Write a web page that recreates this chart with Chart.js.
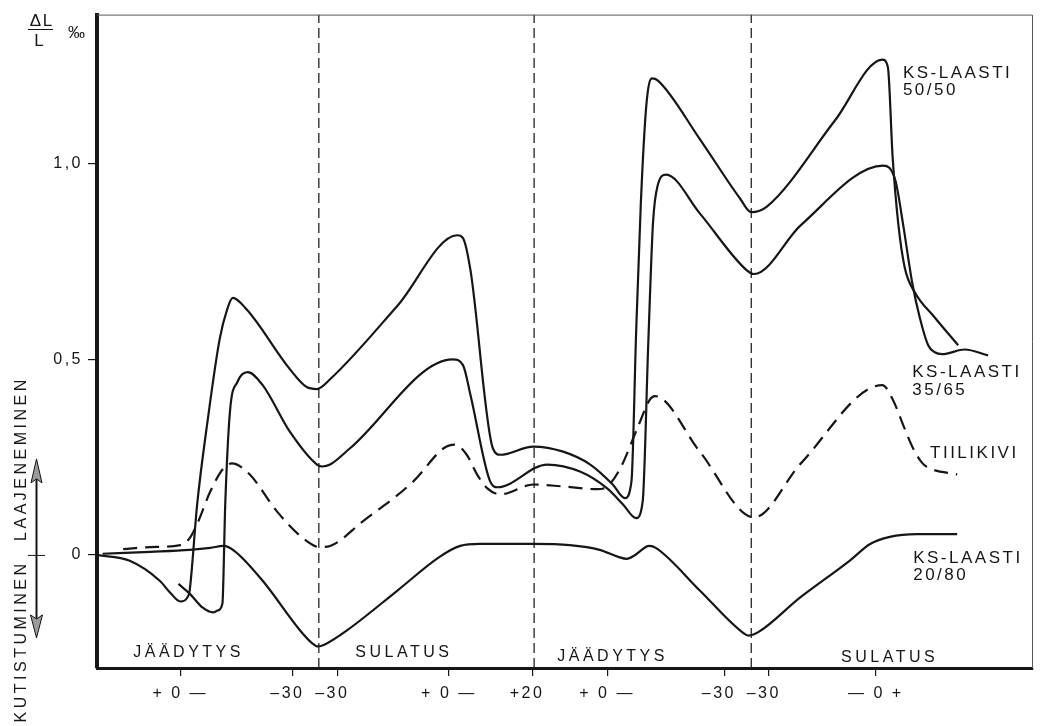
<!DOCTYPE html>
<html><head><meta charset="utf-8">
<script src="https://cdn.jsdelivr.net/npm/chart.js@4.4.1/dist/chart.umd.min.js"></script>
<style>html,body{margin:0;padding:0;background:#fff;}canvas{display:block;}</style>
</head><body>
<canvas id="c" width="1045" height="726"></canvas>
<script>
// x = relative position along the test sequence (0..100), y = ΔL/L in ‰
const ks5050T = [0, 3.5, 6.7, 7.8, 8.9, 9.7, 9.9, 10.7, 11.8, 13.1, 13.9, 14.5, 16.0, 20.6, 22.4, 23.5, 24.9, 32.1, 38.5, 39.1, 39.9, 42.3, 43.1, 46.6, 49.8, 52.7, 55.1, 56.4, 57.1, 57.6, 58.1, 58.7, 59.3, 59.9, 64.4, 68.7, 69.9, 71.6, 78.8, 83.9, 84.5, 85.0, 85.6, 86.3, 87.4, 89.5, 92.0];
const ks5050V = [0, -0.015, -0.066, -0.096, -0.119, -0.107, -0.091, 0.129, 0.340, 0.551, 0.627, 0.657, 0.627, 0.475, 0.429, 0.424, 0.449, 0.637, 0.817, 0.810, 0.728, 0.272, 0.256, 0.277, 0.264, 0.231, 0.180, 0.145, 0.188, 0.569, 0.898, 1.152, 1.218, 1.213, 1.063, 0.911, 0.876, 0.891, 1.109, 1.266, 1.246, 1.018, 0.848, 0.734, 0.670, 0.607, 0.536];

const ks3565T = [8.7, 9.9, 11.3, 12.4, 12.9, 13.4, 13.7, 14.2, 15.0, 16.1, 17.7, 20.6, 23.5, 24.1, 24.9, 27.0, 38.0, 39.1, 39.9, 42.0, 42.8, 48.1, 51.6, 54.5, 56.2, 57.6, 58.3, 58.9, 59.4, 59.9, 60.8, 64.4, 69.4, 70.2, 75.2, 84.0, 85.3, 86.1, 87.1, 87.9, 88.8, 89.5, 90.3, 92.7, 95.2];
const ks3565V = [-0.074, -0.099, -0.135, -0.147, -0.142, -0.124, 0.129, 0.365, 0.442, 0.467, 0.434, 0.315, 0.231, 0.226, 0.231, 0.272, 0.500, 0.485, 0.409, 0.188, 0.173, 0.231, 0.213, 0.170, 0.129, 0.094, 0.137, 0.543, 0.848, 0.944, 0.972, 0.873, 0.728, 0.718, 0.843, 0.995, 0.957, 0.848, 0.695, 0.607, 0.536, 0.518, 0.513, 0.525, 0.510];

const tiiliT = [2.8, 5.7, 8.9, 9.9, 10.7, 12.1, 13.5, 14.4, 16.3, 19.2, 22.0, 23.8, 24.9, 28.4, 33.8, 37.0, 38.2, 39.5, 40.6, 41.7, 43.1, 46.6, 49.8, 53.4, 54.5, 55.9, 57.7, 59.1, 59.6, 64.4, 70.2, 75.2, 83.9, 85.0, 86.3, 87.2, 88.2, 89.0, 91.9];
const tiiliV = [0.015, 0.020, 0.025, 0.043, 0.079, 0.162, 0.221, 0.234, 0.206, 0.112, 0.043, 0.020, 0.023, 0.086, 0.188, 0.272, 0.282, 0.256, 0.206, 0.170, 0.155, 0.180, 0.175, 0.168, 0.175, 0.221, 0.322, 0.398, 0.406, 0.264, 0.096, 0.234, 0.434, 0.398, 0.322, 0.272, 0.234, 0.221, 0.206];

const ks2080T = [0.6, 5.7, 9.9, 12.1, 13.5, 14.7, 17.7, 21.7, 23.0, 23.6, 24.4, 26.7, 32.1, 36.6, 38.8, 40.9, 46.6, 50.5, 53.7, 55.7, 56.6, 57.5, 59.0, 59.7, 64.4, 68.7, 69.6, 70.6, 75.1, 80.4, 82.6, 84.7, 87.6, 91.9];
const ks2080V = [0.003, 0.008, 0.013, 0.018, 0.023, 0.010, -0.066, -0.193, -0.226, -0.234, -0.228, -0.193, -0.091, -0.005, 0.023, 0.028, 0.028, 0.025, 0.013, -0.005, -0.010, 0, 0.023, 0.018, -0.091, -0.193, -0.206, -0.198, -0.109, -0.015, 0.028, 0.046, 0.053, 0.053];

// phase boundaries (dashed verticals)
const phaseBounds = [23.7, 46.7, 69.9];
const phaseNames = ['JÄÄDYTYS', 'SULATUS', 'JÄÄDYTYS', 'SULATUS'];
const phaseLabelX = [9.6, 32.6, 54.9, 84.5];

// temperature ticks on the x axis
const xTickPos = [8.9, 20.9, 25.7, 37.6, 46.5, 54.5, 67.0, 71.8, 83.2];
const xTickLabels = ['+ 0 —', '–30\u2002', '–30\u2002', '+ 0 —', '+20\u2002', '+ 0 —', '–30\u2002', '–30\u2002', '— 0 +'];
const yTickPos = [0, 0.5, 1.0];
const yTickLabels = ['0', '0,5', '1,0'];

const seriesNames = ['KS-LAASTI 50/50', 'KS-LAASTI 35/65', 'TIILIKIVI', 'KS-LAASTI 20/80'];

const Y_MIN = -0.289, Y_MAX = 1.381;
const INK = '#161616';
const FONT = '"Liberation Sans", Arial, sans-serif';
const mk = (ts, vs) => ts.map((t, i) => ({x: t, y: vs[i]}));

const curve = (label, data, dash) => ({
  label, data, borderColor: INK, borderWidth: 2.2, borderDash: dash || [],
  pointRadius: 0, fill: false, cubicInterpolationMode: 'monotone', order: 1
});

const datasets = [
  curve(seriesNames[0], mk(ks5050T, ks5050V)),
  curve(seriesNames[1], mk(ks3565T, ks3565V)),
  curve(seriesNames[2], mk(tiiliT, tiiliV), [14, 8]),
  curve(seriesNames[3], mk(ks2080T, ks2080V)),
  ...phaseBounds.map(b => ({
    label: 'raja', data: [{x: b, y: Y_MIN}, {x: b, y: Y_MAX}],
    borderColor: '#222', borderWidth: 1.3, borderDash: [10, 5], pointRadius: 0,
    tension: 0, fill: false, order: 2
  }))
];

function spaced(ctx, s, px, py, align, spacing) {
  ctx.letterSpacing = spacing + 'px';
  let w = ctx.measureText(s).width;
  let x0 = px;
  if (align === 'center') x0 = px - (w - spacing) / 2;
  else if (align === 'right') x0 = px - (w - spacing);
  ctx.textAlign = 'left';
  ctx.fillText(s, x0, py);
}

const decor = {
  id: 'decor',
  beforeDraw(chart) {
    const c = chart.ctx;
    c.save(); c.fillStyle = '#fff'; c.fillRect(0, 0, chart.width, chart.height); c.restore();
    // wide letter spacing of the original lettering, also used by the axis tick labels
    c.letterSpacing = '2.5px';
  },
  afterDraw(chart) {
    const c = chart.ctx, a = chart.chartArea, xs = chart.scales.x, ys = chart.scales.y;
    c.save();
    // thin top and right frame
    c.strokeStyle = '#555'; c.lineWidth = 1;
    c.beginPath(); c.moveTo(a.left, a.top + 0.5); c.lineTo(a.right - 0.5, a.top + 0.5); c.lineTo(a.right - 0.5, a.bottom); c.stroke();

    c.fillStyle = INK; c.textBaseline = 'middle';
    // phase labels
    c.font = '16px ' + FONT;
    const phaseY = [-0.249, -0.249, -0.259, -0.262];
    phaseNames.forEach((n, i) => spaced(c, n, xs.getPixelForValue(phaseLabelX[i]), ys.getPixelForValue(phaseY[i]), 'center', 3.5));

    // series labels
    c.font = '17px ' + FONT;
    const lab = [
      ['KS-LAASTI', 86.1, 1.231], ['50/50', 86.1, 1.188],
      ['KS-LAASTI', 87.1, 0.467], ['35/65', 87.1, 0.421],
      ['TIILIKIVI', 89.0, 0.259],
      ['KS-LAASTI', 87.2, -0.008], ['20/80', 87.2, -0.051]
    ];
    lab.forEach(l => spaced(c, l[0], xs.getPixelForValue(l[1]), ys.getPixelForValue(l[2]), 'left', 2.5));

    // y axis title  ΔL / L  ‰
    const L = a.left;
    c.font = '17px ' + FONT;
    spaced(c, 'ΔL', L - 56, 21, 'center', 1.5);
    c.strokeStyle = INK; c.lineWidth = 1;
    c.beginPath(); c.moveTo(L - 69, 29.5); c.lineTo(L - 44, 29.5); c.stroke();
    spaced(c, 'L', L - 58, 41, 'center', 0);
    spaced(c, '‰', L - 29, 33, 'left', 0);

    // vertical text and double arrow
    const y0 = ys.getPixelForValue(0);
    c.font = '16px ' + FONT;
    c.save(); c.translate(22, y0 - 14); c.rotate(-Math.PI / 2);
    spaced(c, 'LAAJENEMINEN', 0, 0, 'left', 3.5); c.restore();
    c.save(); c.translate(22, y0 + 9); c.rotate(-Math.PI / 2);
    spaced(c, 'KUTISTUMINEN', 0, 0, 'right', 3.5); c.restore();

    const ax = 36.5;
    c.strokeStyle = INK; c.lineWidth = 2;
    c.beginPath(); c.moveTo(ax, y0 - 76); c.lineTo(ax, y0 + 64); c.stroke();
    c.lineWidth = 1;
    c.beginPath(); c.moveTo(28, y0 + 0.5); c.lineTo(45, y0 + 0.5); c.stroke();
    c.fillStyle = '#9a9a9a';
    c.beginPath(); c.moveTo(ax, y0 - 96); c.lineTo(ax - 5.5, y0 - 72); c.lineTo(ax, y0 - 76); c.lineTo(ax + 5.5, y0 - 72); c.closePath(); c.fill(); c.stroke();
    c.beginPath(); c.moveTo(ax, y0 + 83); c.lineTo(ax - 6, y0 + 60); c.lineTo(ax, y0 + 64); c.lineTo(ax + 6, y0 + 60); c.closePath(); c.fill(); c.stroke();
    c.restore();
  }
};

new Chart(document.getElementById('c'), {
  type: 'line',
  data: { datasets },
  plugins: [decor],
  options: {
    responsive: false, animation: false,
    layout: { padding: { left: 0, right: 12, top: 10, bottom: 0 } },
    plugins: { legend: { display: false }, tooltip: { enabled: false } },
    scales: {
      x: {
        type: 'linear', min: 0, max: 100,
        afterBuildTicks: s => { s.ticks = xTickPos.map(v => ({ value: v })); },
        afterFit: s => { s.height = 58; },
        ticks: {
          autoSkip: false, maxRotation: 0, minRotation: 0, padding: 8, color: INK,
          font: { family: FONT, size: 16 },
          callback: (v, i) => xTickLabels[i]
        },
        grid: { display: true, drawOnChartArea: false, drawTicks: true, tickLength: 8, color: INK, lineWidth: 1.2 },
        border: { display: true, color: INK, width: 3 }
      },
      y: {
        type: 'linear', min: Y_MIN, max: Y_MAX,
        afterBuildTicks: s => { s.ticks = yTickPos.map(v => ({ value: v })); },
        afterFit: s => { s.width = 97; },
        ticks: {
          autoSkip: false, padding: 5, color: INK,
          font: { family: FONT, size: 16 },
          callback: (v, i) => yTickLabels[i]
        },
        grid: { display: true, drawOnChartArea: false, drawTicks: true, tickLength: 9, color: INK, lineWidth: 1.2 },
        border: { display: true, color: INK, width: 4 }
      }
    }
  }
});
</script>
</body></html>
